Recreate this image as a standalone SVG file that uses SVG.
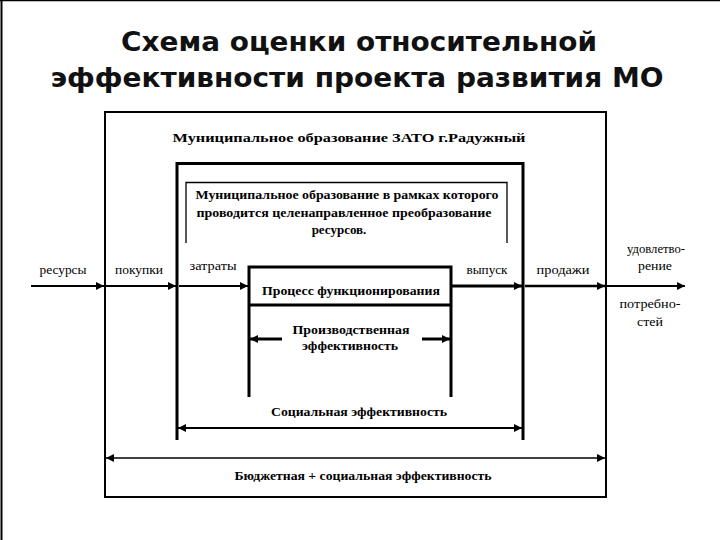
<svg xmlns="http://www.w3.org/2000/svg" width="720" height="540" viewBox="0 0 720 540">
<defs>
<marker id="ah" viewBox="0 0 10 10" refX="10" refY="5" markerWidth="9" markerHeight="8" markerUnits="userSpaceOnUse" orient="auto-start-reverse">
<path d="M0,0 L10,5 L0,10 z" fill="#000"/>
</marker>
<style>
.title{font-family:"DejaVu Sans","Liberation Sans",sans-serif;font-weight:bold;font-size:27px;fill:#111;text-anchor:middle}
.b{font-family:"Liberation Serif","Times New Roman",serif;font-weight:bold;font-size:13px;fill:#000;text-anchor:middle}
.r{font-family:"Liberation Serif","Times New Roman",serif;font-size:13px;fill:#000;text-anchor:middle}
.ln{fill:none;stroke:#000}
</style>
</defs>
<rect width="720" height="540" fill="#fff"/>
<line class="ln" x1="0" y1="0.5" x2="720" y2="0.5" stroke-width="1.5"/>
<line class="ln" x1="1.5" y1="0" x2="1.5" y2="540" stroke-width="2"/>

<g id="title">
<text class="title" x="359" y="51" textLength="476" lengthAdjust="spacingAndGlyphs">Схема оценки относительной</text>
<text class="title" x="357" y="87" textLength="613" lengthAdjust="spacingAndGlyphs">эффективности проекта развития МО</text>
</g>

<g id="mo-zato">
<rect class="ln" x="105" y="112" width="501" height="385" stroke-width="2"/>
<text class="b" x="349" y="142" font-size="15" textLength="353" lengthAdjust="spacingAndGlyphs">Муниципальное образование ЗАТО г.Радужный</text>
</g>

<g id="mo-frame">
<path class="ln" d="M177,440 V163.5 H523 V440" stroke-width="3"/>
</g>

<g id="mo-text">
<path class="ln" d="M186,243 V182.5 H507 V243" stroke-width="1.3"/>
<text class="b" x="347" y="199" textLength="303" lengthAdjust="spacingAndGlyphs">Муниципальное образование в рамках которого</text>
<text class="b" x="344" y="217" textLength="295" lengthAdjust="spacingAndGlyphs">проводится целенаправленное преобразование</text>
<text class="b" x="339" y="234">ресурсов.</text>
</g>

<g id="process">
<path class="ln" d="M249,397 V267 H451 V397" stroke-width="3"/>
<line class="ln" x1="249" y1="305" x2="451" y2="305" stroke-width="3"/>
<text class="b" x="351" y="295" textLength="178" lengthAdjust="spacingAndGlyphs">Процесс функционирования</text>
</g>

<g id="prod-eff">
<text class="b" x="351" y="334" textLength="117" lengthAdjust="spacingAndGlyphs">Производственная</text>
<text class="b" x="350" y="350" textLength="96" lengthAdjust="spacingAndGlyphs">эффективность</text>
</g>

<g id="soc-eff">
<text class="b" x="359" y="416" textLength="176" lengthAdjust="spacingAndGlyphs">Социальная эффективность</text>
</g>

<g id="budget-eff">
<text class="b" x="363" y="480" textLength="257" lengthAdjust="spacingAndGlyphs">Бюджетная + социальная эффективность</text>
</g>

<g id="labels">
<text class="r" x="63" y="274" textLength="47" lengthAdjust="spacingAndGlyphs">ресурсы</text>
<text class="r" x="139" y="274" textLength="48" lengthAdjust="spacingAndGlyphs">покупки</text>
<text class="r" x="213" y="270" textLength="47" lengthAdjust="spacingAndGlyphs">затраты</text>
<text class="r" x="487" y="274" textLength="41" lengthAdjust="spacingAndGlyphs">выпуск</text>
<text class="r" x="563" y="274" textLength="53" lengthAdjust="spacingAndGlyphs">продажи</text>
<text class="r" x="656" y="253" textLength="58" lengthAdjust="spacingAndGlyphs">удовлетво-</text>
<text class="r" x="655" y="270" textLength="34" lengthAdjust="spacingAndGlyphs">рение</text>
<text class="r" x="650" y="308" textLength="61" lengthAdjust="spacingAndGlyphs">потребно-</text>
<text class="r" x="650" y="326" textLength="26" lengthAdjust="spacingAndGlyphs">стей</text>
</g>

<g id="connectors">
<line class="ln" x1="31" y1="286" x2="104" y2="286" stroke-width="2" marker-end="url(#ah)"/>
<line class="ln" x1="106" y1="286" x2="176" y2="286" stroke-width="2" marker-end="url(#ah)"/>
<line class="ln" x1="179" y1="286" x2="248" y2="286" stroke-width="2" marker-end="url(#ah)"/>
<line class="ln" x1="452" y1="286" x2="522" y2="286" stroke-width="3" marker-end="url(#ah)"/>
<line class="ln" x1="525" y1="286" x2="605" y2="286" stroke-width="2.5" marker-end="url(#ah)"/>
<line class="ln" x1="607" y1="286" x2="685" y2="286" stroke-width="2" marker-end="url(#ah)"/>
<line class="ln" x1="282" y1="339" x2="250" y2="339" stroke-width="3" marker-end="url(#ah)"/>
<line class="ln" x1="422" y1="339" x2="450" y2="339" stroke-width="3" marker-end="url(#ah)"/>
<line class="ln" x1="178" y1="428" x2="522" y2="428" stroke-width="2" marker-start="url(#ah)" marker-end="url(#ah)"/>
<line class="ln" x1="106" y1="458" x2="605" y2="458" stroke-width="1.5" marker-start="url(#ah)" marker-end="url(#ah)"/>
</g>
</svg>
